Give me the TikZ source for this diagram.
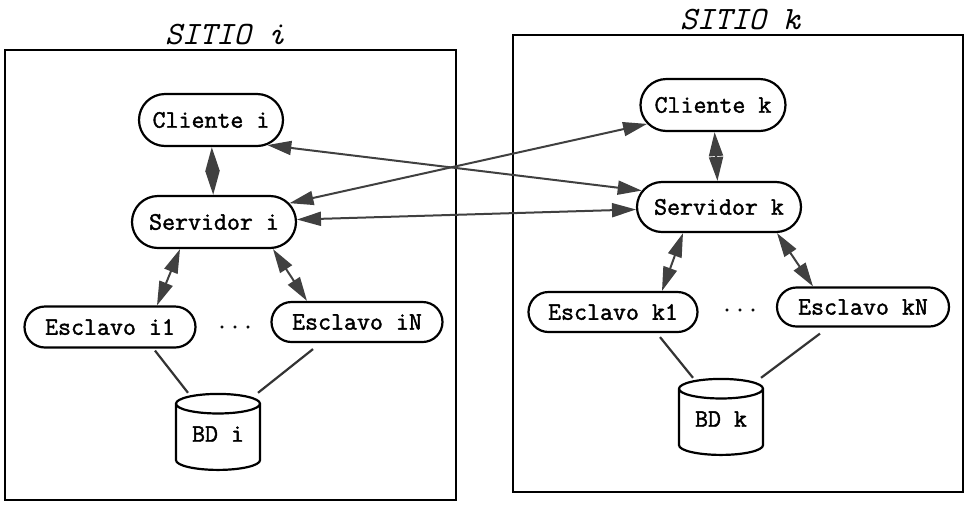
\documentclass[tikz,border=0pt]{standalone}
\usepackage{fontspec}
\setmonofont{Latin Modern Mono}[AutoFakeBold=1.6]
\usetikzlibrary{positioning,arrows.meta,shapes.misc,shapes.geometric}

\begin{document}
\begin{tikzpicture}[x=0.5pt,y=-0.5pt,
  sitio/.style={draw,line width=1pt,inner sep=0pt},
  titolo/.style={font=\ttfamily\itshape\fontsize{16.3}{19}\selectfont},
  proceso/.style={draw,line width=1.1pt,rounded rectangle,minimum height=26pt,
    inner xsep=2pt,font=\ttfamily\bfseries\fontsize{12.6}{15}\selectfont},
  punti/.style={font=\ttfamily\bfseries\fontsize{12.6}{15}\selectfont},
  bd/.style={draw,line width=1.1pt,cylinder,shape border rotate=90,aspect=0.3,
    minimum width=42pt,minimum height=38pt,text depth=6pt,
    font=\ttfamily\bfseries\fontsize{12.6}{15}\selectfont},
  flecha/.style={line width=1pt,draw=black!75,
    {Triangle[length=12pt,width=7pt]}-{Triangle[length=12pt,width=7pt]}},
  linea/.style={line width=1.1pt,draw=black!80}]

  \useasboundingbox (0,0) rectangle (971,505);

  % Siti
  \node[sitio,minimum width=225.5pt,minimum height=225pt] (sitioi) at (230.5,275) {};
  \node[sitio,minimum width=225pt,minimum height=228.5pt] (sitiok) at (738,263.5) {};
  \node[titolo] (titoloi) at (225,35) {SITIO i};
  \node[titolo] (titolok) at (740,20) {SITIO k};

  % Nodi del sitio i
  \node[proceso,minimum width=76pt] (clii) at (211,120) {Cliente i};
  \node[proceso,minimum width=86pt] (srvi) at (214,222) {Servidor i};
  \node[proceso,minimum width=89.5pt,minimum height=20.5pt] (esci1) at (110,327) {Esclavo i1};
  \node[proceso,minimum width=89.5pt,minimum height=20pt] (esciN) at (357,322) {Esclavo iN};
  \node[punti] (puntii) at (235,327) {...};
  \node[bd] (bdi) at (218,440) {BD i};

  % Nodi del sitio k
  \node[proceso,minimum width=76.5pt] (clik) at (713,105) {Cliente k};
  \node[proceso,minimum width=86pt,minimum height=25pt] (srvk) at (719,207) {Servidor k};
  \node[proceso,minimum width=88.5pt,minimum height=20pt] (esck1) at (613,312) {Esclavo k1};
  \node[proceso,minimum width=90pt,minimum height=19.5pt] (esckN) at (863,307) {Esclavo kN};
  \node[punti] (puntik) at (740,310) {...};
  \node[bd] (bdk) at (721,425) {BD k};

  % Frecce
  \draw[flecha] (clii) -- (srvi);
  \draw[flecha] (clik) -- (srvk);
  \draw[flecha] (clii.-24) -- (srvk.168);
  \draw[flecha] (srvi.14) -- (clik.196);
  \draw[flecha] (srvi) -- (srvk);
  \draw[flecha] ([xshift=-17pt]srvi.south) -- ([xshift=23.5pt]esci1.north);
  \draw[flecha] ([xshift=29.5pt]srvi.south) -- ([xshift=-25pt]esciN.north);
  \draw[flecha] ([xshift=-18pt]srvk.south) -- ([xshift=24.5pt]esck1.north);
  \draw[flecha] ([xshift=29pt]srvk.south) -- ([xshift=-25pt]esckN.north);

  % Linee verso le basi di dati
  \draw[linea] ([xshift=22.5pt,yshift=-1pt]esci1.south) -- ([xshift=-15pt]bdi.north);
  \draw[linea] ([xshift=-22pt,yshift=-3pt]esciN.south) -- ([xshift=20pt]bdi.north);
  \draw[linea] ([xshift=23.5pt,yshift=-2pt]esck1.south) -- ([xshift=-14pt]bdk.north);
  \draw[linea] ([xshift=-21.5pt,yshift=-3pt]esckN.south) -- ([xshift=20pt]bdk.north);
\end{tikzpicture}
\end{document}
